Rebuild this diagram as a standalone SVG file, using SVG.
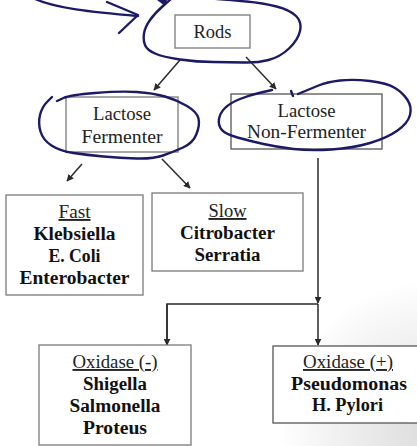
<svg xmlns="http://www.w3.org/2000/svg" width="417" height="446" viewBox="0 0 417 446">
<defs>
<radialGradient id="shade" cx="430" cy="430" r="150" gradientUnits="userSpaceOnUse">
<stop offset="0" stop-color="#dcdcdc"/>
<stop offset="0.6" stop-color="#f0f0f0"/>
<stop offset="1" stop-color="#ffffff"/>
</radialGradient>
<marker id="ah" viewBox="0 0 10 10" refX="9" refY="5" markerWidth="7" markerHeight="7" markerUnits="userSpaceOnUse" orient="auto">
<path d="M0,0 L10,5 L0,10 z" fill="#2a2a2a"/>
</marker>
<style>
.box{fill:#fff;stroke:#7a7a7a;stroke-width:1.3}
.dk{stroke:#555}
.t{font-family:"Liberation Serif","DejaVu Serif",serif;font-size:19px;fill:#222;text-anchor:middle}
.b{font-weight:bold;fill:#111;font-size:18px}
.u{text-decoration:underline}
.c{fill:none;stroke:#2a2a2a;stroke-width:1.5}
.ink{fill:none;stroke:#1c1a66;stroke-width:2.4;stroke-linecap:round;stroke-linejoin:round}
</style>
</defs>
<rect width="417" height="446" fill="#fff"/>
<rect x="270" y="260" width="147" height="186" fill="url(#shade)"/>

<g id="connectors">
<line class="c" x1="180" y1="60" x2="154" y2="90" marker-end="url(#ah)"/>
<line class="c" x1="246" y1="57" x2="276" y2="89" marker-end="url(#ah)"/>
<line class="c" x1="82" y1="164" x2="67" y2="181" marker-end="url(#ah)"/>
<line class="c" x1="162" y1="159" x2="190" y2="188" marker-end="url(#ah)"/>
<line class="c" x1="318" y1="158" x2="318" y2="303" marker-end="url(#ah)"/>
<polyline class="c" points="167,345 167,304 318,304"/>
<line class="c" x1="167" y1="304" x2="167" y2="345" marker-end="url(#ah)"/>
<line class="c" x1="318" y1="304" x2="318" y2="345" marker-end="url(#ah)"/>
</g>

<g id="rods">
<rect class="box" x="175" y="15" width="75" height="33"/>
<text class="t" x="212.5" y="38" textLength="38" lengthAdjust="spacingAndGlyphs">Rods</text>
</g>

<g id="lactose-fermenter">
<rect class="box" x="66" y="97" width="112" height="55"/>
<text class="t" x="122" y="120" textLength="58" lengthAdjust="spacingAndGlyphs">Lactose</text>
<text class="t" x="122" y="143" textLength="81" lengthAdjust="spacingAndGlyphs">Fermenter</text>
</g>

<g id="lactose-non-fermenter">
<rect class="box dk" x="231" y="94" width="151" height="55"/>
<text class="t" x="306.5" y="117" textLength="58" lengthAdjust="spacingAndGlyphs">Lactose</text>
<text class="t" x="306.5" y="138" textLength="119" lengthAdjust="spacingAndGlyphs">Non-Fermenter</text>
</g>

<g id="fast">
<rect class="box" x="6" y="195" width="137" height="100"/>
<text class="t u" x="74.5" y="218" textLength="32" lengthAdjust="spacingAndGlyphs">Fast</text>
<text class="t b" x="74.5" y="240" textLength="82" lengthAdjust="spacingAndGlyphs">Klebsiella</text>
<text class="t b" x="74.5" y="262" textLength="52" lengthAdjust="spacingAndGlyphs">E. Coli</text>
<text class="t b" x="74.5" y="284" textLength="110" lengthAdjust="spacingAndGlyphs">Enterobacter</text>
</g>

<g id="slow">
<rect class="box" x="152" y="193" width="151" height="78"/>
<text class="t u" x="227.5" y="217" textLength="38" lengthAdjust="spacingAndGlyphs">Slow</text>
<text class="t b" x="227.5" y="239" textLength="95" lengthAdjust="spacingAndGlyphs">Citrobacter</text>
<text class="t b" x="227.5" y="261" textLength="66" lengthAdjust="spacingAndGlyphs">Serratia</text>
</g>

<g id="oxidase-neg">
<rect class="box" x="39" y="345" width="152" height="100"/>
<text class="t u" x="115" y="368" textLength="85" lengthAdjust="spacingAndGlyphs">Oxidase (-)</text>
<text class="t b" x="115" y="390" textLength="64" lengthAdjust="spacingAndGlyphs">Shigella</text>
<text class="t b" x="115" y="412" textLength="91" lengthAdjust="spacingAndGlyphs">Salmonella</text>
<text class="t b" x="115" y="434" textLength="64" lengthAdjust="spacingAndGlyphs">Proteus</text>
</g>

<g id="oxidase-pos">
<rect class="box dk" x="273" y="346" width="146" height="77"/>
<text class="t u" x="348" y="368" textLength="90" lengthAdjust="spacingAndGlyphs">Oxidase (+)</text>
<text class="t b" x="349" y="390" textLength="116" lengthAdjust="spacingAndGlyphs">Pseudomonas</text>
<text class="t b" x="347.5" y="411" textLength="71" lengthAdjust="spacingAndGlyphs">H. Pylori</text>
</g>

<g id="ink">
<path class="ink" d="M35,-1 C55,8 90,12 138,16"/>
<path class="ink" d="M107,2 L138,15 L119,33"/>
<polygon points="157,0 167,0 165,6" fill="#1c1a66"/>
<path class="ink" d="M172,-2 L163.5,5.5 Q155,13 150,20 Q145,27 144,33.5 Q143,40 145,45 Q147,50 155,53.5 Q163,57 180,59.5 Q197,62 213.5,62 Q230,62 243.5,62.5 Q257,63 268.5,60 Q280,57 289,48.5 Q298,40 300,31 Q302,22 296,16 Q290,10 276.5,6.5 Q263,3 246.5,1.5 Q230,0 217.5,-1 L205,-2"/>
<path class="ink" d="M57,101 L63.5,98 Q70,95 95,93 Q120,91 136.5,92 Q153,93 165,96.5 Q177,100 187,106 Q197,112 198.5,118.5 Q200,125 196.5,134 Q193,143 183,147.5 Q173,152 163,155.5 Q153,159 136.5,158.5 Q120,158 103.5,156.5 Q87,155 73.5,153 Q60,151 51.5,145.5 Q43,140 40.5,131.5 Q38,123 40,115 Q42,107 47,102 L52,97"/>
<path class="ink" d="M272,90 L261,92.5 Q250,95 240,99 Q230,103 225,108 Q220,113 219,119 Q218,125 221.5,129.5 Q225,134 237.5,137.5 Q250,141 263.5,144 Q277,147 293.5,149 Q310,151 331.5,149.5 Q353,148 370,143 Q387,138 397.5,130.5 Q408,123 410,115 Q412,107 407.5,100 Q403,93 395,88 Q387,83 370,81 Q353,79 340,80.5 Q327,82 318.5,85.5 Q310,89 304,91.5 L298,94"/>
<path class="ink" d="M291,91 L293,96"/>
</g>
</svg>
